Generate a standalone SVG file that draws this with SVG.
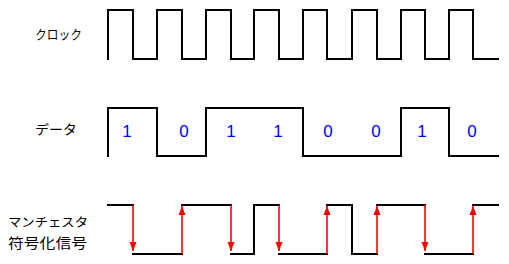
<svg xmlns="http://www.w3.org/2000/svg" width="509" height="264" viewBox="0 0 509 264">
<defs>
<style>
.sig{fill:none;stroke:#000;stroke-width:2;stroke-linejoin:miter;stroke-linecap:square}
.tr{fill:none;stroke:#ff0000;stroke-width:1.6}
.lbl{font-family:"Noto Sans CJK JP",sans-serif;fill:#000}
.bit{font-family:"Liberation Sans",Arial,sans-serif;font-size:17px;fill:#0000ff;text-anchor:middle}
</style>
<marker id="ahd" markerUnits="userSpaceOnUse" markerWidth="8" markerHeight="10" viewBox="0 0 8 10" refX="4" refY="9" orient="0">
<path d="M0.5,0 L7.5,0 L4,9 Z" fill="#ff0000"/>
</marker>
<marker id="ahu" markerUnits="userSpaceOnUse" markerWidth="8" markerHeight="10" viewBox="0 0 8 10" refX="4" refY="1" orient="0">
<path d="M0.5,10 L7.5,10 L4,1 Z" fill="#ff0000"/>
</marker>
</defs>
<rect width="509" height="264" fill="#fff"/>

<g id="label-clock"><text class="lbl" x="35" y="38.5" font-size="13" textLength="47" lengthAdjust="spacingAndGlyphs">クロック</text></g>
<g id="label-data"><text class="lbl" x="35" y="133.5" font-size="13" textLength="42" lengthAdjust="spacingAndGlyphs">データ</text></g>
<g id="label-manchester">
<text class="lbl" x="8" y="227" font-size="12.5" textLength="80" lengthAdjust="spacingAndGlyphs">マンチェスタ</text>
<text class="lbl" x="8" y="247.5" font-size="14" textLength="79" lengthAdjust="spacingAndGlyphs">符号化信号</text>
</g>

<g id="clock">
<path class="sig" d="M108,59 V10 H133 V59 H157 V10 H182 V59 H206 V10 H231 V59 H254 V10 H279 V59 H303 V10 H327 V59 H352 V10 H377 V59 H401 V10 H425 V59 H449 V10 H473 V59 H498"/>
</g>

<g id="data">
<path class="sig" d="M108,156 V108 H157 V156 H206 V108 H303 V156 H401 V108 H449 V156 H498"/>
<text class="bit" x="127" y="137">1</text>
<text class="bit" x="184" y="137">0</text>
<text class="bit" x="231" y="137">1</text>
<text class="bit" x="278" y="137">1</text>
<text class="bit" x="328" y="137">0</text>
<text class="bit" x="376" y="137">0</text>
<text class="bit" x="422" y="137">1</text>
<text class="bit" x="472" y="137">0</text>
</g>

<g id="manchester">
<path class="sig" d="M108,205 H133 M133,254 H182 M182,205 H231 M231,254 H254 V205 H279 M279,254 H327 M327,205 H352 V254 H377 M377,205 H425 M425,254 H473 M473,205 H498"/>
</g>

<g id="connectors">
<line class="tr" x1="133" y1="205" x2="133" y2="251" marker-end="url(#ahd)"/>
<line class="tr" x1="182" y1="254" x2="182" y2="206" marker-end="url(#ahu)"/>
<line class="tr" x1="231" y1="205" x2="231" y2="251" marker-end="url(#ahd)"/>
<line class="tr" x1="279" y1="205" x2="279" y2="251" marker-end="url(#ahd)"/>
<line class="tr" x1="327" y1="254" x2="327" y2="206" marker-end="url(#ahu)"/>
<line class="tr" x1="377" y1="254" x2="377" y2="206" marker-end="url(#ahu)"/>
<line class="tr" x1="425" y1="205" x2="425" y2="251" marker-end="url(#ahd)"/>
<line class="tr" x1="473" y1="254" x2="473" y2="206" marker-end="url(#ahu)"/>
</g>
</svg>
